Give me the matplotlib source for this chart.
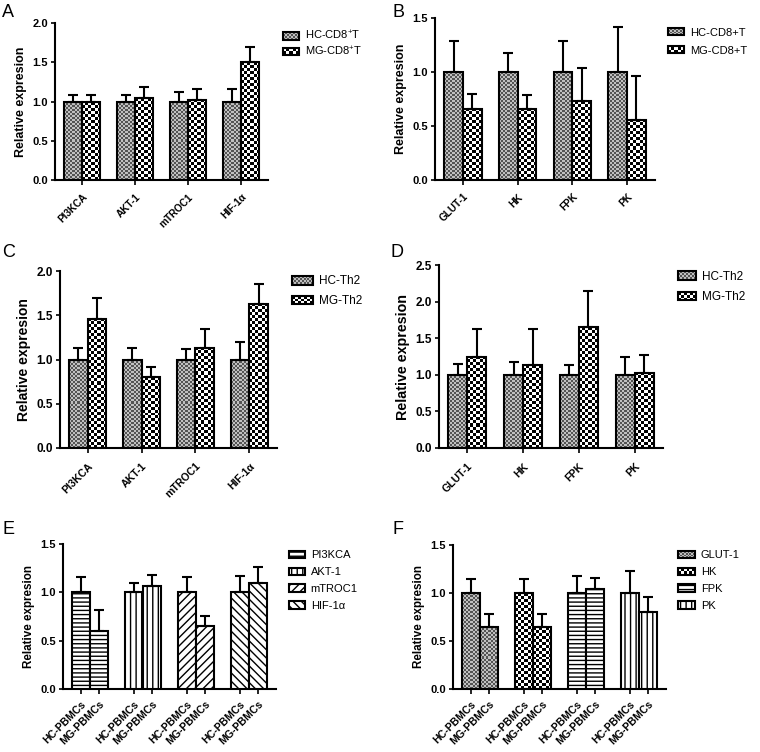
import numpy as np
import matplotlib
matplotlib.use('Agg')
import matplotlib.pyplot as plt
from matplotlib.patches import Rectangle, Patch
from matplotlib.legend_handler import HandlerBase

plt.rcParams['font.family'] = ['Liberation Sans', 'DejaVu Sans']
plt.rcParams['mathtext.fontset'] = 'custom'
plt.rcParams['mathtext.rm'] = 'Liberation Sans'
plt.rcParams['mathtext.it'] = 'Liberation Sans:italic'
plt.rcParams['mathtext.bf'] = 'Liberation Sans:bold'
plt.rcParams['hatch.linewidth'] = 1.0

# ---------------- data ----------------
genes_sig = ['PI3KCA', 'AKT-1', 'mTROC1', 'HIF-1α']
genes_gly = ['GLUT-1', 'HK', 'FPK', 'PK']
pbmc_labels = ['HC-PBMCs', 'MG-PBMCs']

a_hc = [1.0, 1.0, 1.0, 1.0]
a_hc_err = [0.08, 0.08, 0.12, 0.16]
a_mg = [0.99, 1.04, 1.02, 1.50]
a_mg_err = [0.09, 0.14, 0.14, 0.19]

b_hc = [1.0, 1.0, 1.0, 1.0]
b_hc_err = [0.29, 0.18, 0.29, 0.42]
b_mg = [0.66, 0.66, 0.73, 0.56]
b_mg_err = [0.14, 0.13, 0.31, 0.40]

c_hc = [1.0, 1.0, 1.0, 1.0]
c_hc_err = [0.13, 0.135, 0.12, 0.20]
c_mg = [1.46, 0.80, 1.13, 1.63]
c_mg_err = [0.24, 0.11, 0.21, 0.22]

d_hc = [1.0, 1.0, 1.0, 1.0]
d_hc_err = [0.15, 0.18, 0.13, 0.25]
d_mg = [1.25, 1.13, 1.65, 1.03]
d_mg_err = [0.37, 0.49, 0.49, 0.24]

e_hc = [1.0, 1.0, 1.0, 1.0]
e_hc_err = [0.155, 0.10, 0.16, 0.17]
e_mg = [0.60, 1.07, 0.65, 1.10]
e_mg_err = [0.22, 0.11, 0.11, 0.16]

f_hc = [1.0, 1.0, 1.0, 1.0]
f_hc_err = [0.145, 0.145, 0.18, 0.23]
f_mg = [0.65, 0.645, 1.04, 0.80]
f_mg_err = [0.13, 0.135, 0.12, 0.16]

# ---------------- figure ----------------
W_PX, H_PX, DPI = 760, 752, 100
fig = plt.figure(figsize=(W_PX / DPI, H_PX / DPI), dpi=DPI)

BW = 0.34
XL = (-0.51, 3.51)
LW = 1.5
HATCH = {'hline': '----', 'vline': '|||', 'fdiag': '////', 'bdiag': '\\\\\\\\'}
CELL = {'fine': 2.0, 'checker': 3.0}
COLS = {'fine': (0.33, 0.75), 'checker': (0.0, 1.0)}


def add_axes_px(x0, y0, x1, y1):
    return fig.add_axes([x0 / W_PX, 1 - y1 / H_PX, (x1 - x0) / W_PX, (y1 - y0) / H_PX])


class TextureHandler(HandlerBase):
    def __init__(self, pattern):
        super().__init__()
        self.pattern = pattern

    def create_artists(self, legend, orig_handle, xdescent, ydescent,
                       width, height, fontsize, trans):
        x0, y0 = -xdescent, -ydescent
        arts = []
        if self.pattern in CELL:
            c0, c1 = COLS[self.pattern]
            arts.append(Rectangle((x0, y0), width, height, facecolor=str(c1),
                                  edgecolor='none', transform=trans))
            cell = CELL[self.pattern] * 72.0 / DPI
            nx = max(1, int(round(width / cell)))
            ny = max(1, int(round(height / cell)))
            cw, ch = width / nx, height / ny
            for i in range(nx):
                for j in range(ny):
                    if (i + j) % 2 == 0:
                        arts.append(Rectangle((x0 + i * cw, y0 + j * ch), cw, ch,
                                              facecolor=str(c0), edgecolor='none',
                                              transform=trans))
            arts.append(Rectangle((x0, y0), width, height, fill=False,
                                  edgecolor='black', lw=LW, transform=trans))
        else:
            arts.append(Rectangle((x0, y0), width, height, facecolor='white',
                                  edgecolor='black', hatch=HATCH[self.pattern],
                                  lw=LW, transform=trans))
        return arts


def draw_bar(ax, x, h, pattern, ymax, ax_w_px, ax_h_px):
    if pattern in CELL:
        w_px = BW / (XL[1] - XL[0]) * ax_w_px
        h_px = h / ymax * ax_h_px
        nx = max(1, int(round(w_px / CELL[pattern])))
        ny = max(1, int(round(h_px / CELL[pattern])))
        i, j = np.indices((ny, nx))
        c0, c1 = COLS[pattern]
        arr = np.where((i + j) % 2 == 0, c0, c1)
        ax.imshow(arr, cmap='gray', vmin=0, vmax=1, origin='lower',
                  extent=(x - BW / 2, x + BW / 2, 0, h), aspect='auto',
                  interpolation='nearest', zorder=2)
        ax.bar(x, h, width=BW, fill=False, edgecolor='black', lw=LW, zorder=3)
    else:
        ax.bar(x, h, width=BW, facecolor='white', edgecolor='black',
               hatch=HATCH[pattern], lw=LW, zorder=3)


def panel(box, letter, letter_xy, hc, hc_err, mg, mg_err, pats_hc, pats_mg,
          ymax, xticks_mode, xlabels, leg_labels, leg_pats, leg_xy,
          leg_len, leg_h, leg_sp, leg_fs, ytick_fs, xtick_fs, ylab_fs, xpad):
    ax = add_axes_px(*box)
    ax_w_px = box[2] - box[0]
    ax_h_px = box[3] - box[1]
    groups = np.arange(len(hc))
    hc_x = groups - BW / 2
    mg_x = groups + BW / 2
    for k in range(len(hc)):
        draw_bar(ax, hc_x[k], hc[k], pats_hc[k], ymax, ax_w_px, ax_h_px)
        draw_bar(ax, mg_x[k], mg[k], pats_mg[k], ymax, ax_w_px, ax_h_px)
    for xs, vals, errs in ((hc_x, hc, hc_err), (mg_x, mg, mg_err)):
        ax.errorbar(xs, vals, yerr=[np.zeros(len(vals)), errs], fmt='none',
                    ecolor='black', elinewidth=LW, capsize=3.6, capthick=LW,
                    zorder=4)
    ax.set_xlim(*XL)
    ax.set_ylim(0, ymax)
    yt = np.arange(0, ymax + 0.01, 0.5)
    ax.set_yticks(yt)
    ax.set_yticklabels(['%.1f' % v for v in yt], fontweight='bold', fontsize=ytick_fs)
    if xticks_mode == 'group':
        ax.set_xticks(groups)
        ax.set_xticklabels(xlabels)
    else:
        pos = np.ravel(np.column_stack([hc_x, mg_x]))
        ax.set_xticks(pos)
        ax.set_xticklabels(xlabels * len(hc))
    for t in ax.get_xticklabels():
        t.set_rotation(45)
        t.set_ha('right')
        t.set_va('top')
        t.set_rotation_mode('anchor')
        t.set_fontweight('bold')
        t.set_fontsize(xtick_fs)
    for s in ('top', 'right'):
        ax.spines[s].set_visible(False)
    for s in ('left', 'bottom'):
        ax.spines[s].set_linewidth(LW)
    ax.tick_params(axis='y', length=3, width=1.2, pad=2)
    ax.tick_params(axis='x', length=3.5, width=1.2, pad=xpad)
    ax.set_ylabel('Relative expresion', fontweight='bold', fontsize=ylab_fs, labelpad=4)
    fig.text(letter_xy[0] / W_PX, 1 - letter_xy[1] / H_PX, letter,
             fontsize=13, ha='left', va='top')
    handles = [Patch() for _ in leg_labels]
    hmap = {h: TextureHandler(p) for h, p in zip(handles, leg_pats)}
    ax.legend(handles, leg_labels, handler_map=hmap, loc='upper left',
              bbox_to_anchor=(leg_xy[0] / W_PX, 1 - leg_xy[1] / H_PX),
              bbox_transform=fig.transFigure, frameon=False, borderpad=0,
              borderaxespad=0, handlelength=leg_len, handleheight=leg_h,
              handletextpad=0.5, labelspacing=leg_sp, fontsize=leg_fs)
    return ax


FOURF = ['fine'] * 4
FOURC = ['checker'] * 4

panel((55, 23, 268, 180), 'A', (2, 4), a_hc, a_hc_err, a_mg, a_mg_err, FOURF, FOURC,
      2.0, 'group', genes_sig, ['HC-CD8$^{+}$T', 'MG-CD8$^{+}$T'], ['fine', 'checker'],
      (283, 29), 1.45, 0.65, 0.2, 8, 8, 7.2, 9, 5)
panel((435, 18, 655, 180), 'B', (392, 4), b_hc, b_hc_err, b_mg, b_mg_err, FOURF, FOURC,
      1.5, 'group', genes_gly, ['HC-CD8+T', 'MG-CD8+T'], ['fine', 'checker'],
      (668, 27.5), 1.45, 0.65, 0.73, 8, 8, 7.2, 9, 5)
panel((60, 271, 277, 448), 'C', (2, 244), c_hc, c_hc_err, c_mg, c_mg_err, FOURF, FOURC,
      2.0, 'group', genes_sig, ['HC-Th2', 'MG-Th2'], ['fine', 'checker'],
      (292, 275.5), 1.8, 0.72, 0.65, 8.5, 8.5, 7.6, 10, 6)
panel((439, 265, 663, 448), 'D', (390, 244), d_hc, d_hc_err, d_mg, d_mg_err, FOURF, FOURC,
      2.5, 'group', genes_gly, ['HC-Th2', 'MG-Th2'], ['fine', 'checker'],
      (678, 270.5), 1.55, 0.72, 0.74, 8.5, 8.5, 7.6, 10.3, 6)
e_pats = ['hline', 'vline', 'fdiag', 'bdiag']
panel((63, 544, 276, 689), 'E', (2, 521), e_hc, e_hc_err, e_mg, e_mg_err, e_pats, e_pats,
      1.5, 'bars', pbmc_labels, genes_sig, e_pats,
      (289, 550.5), 1.45, 0.65, 0.61, 8, 8, 7.6, 8.4, 3.5)
f_pats = ['fine', 'checker', 'hline', 'vline']
panel((453, 545, 666, 689), 'F', (392, 521), f_hc, f_hc_err, f_mg, f_mg_err, f_pats, f_pats,
      1.5, 'bars', pbmc_labels, genes_gly, f_pats,
      (678, 550.5), 1.55, 0.65, 0.61, 8, 8, 7.6, 8.4, 3.5)

fig.savefig('out.png', dpi=DPI, facecolor='white')
